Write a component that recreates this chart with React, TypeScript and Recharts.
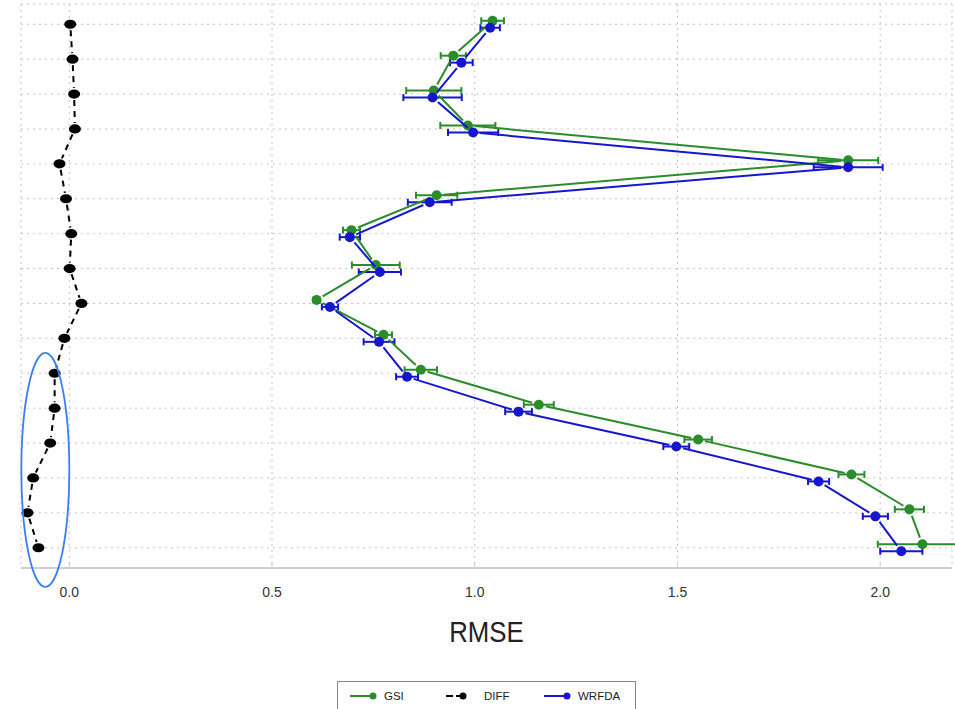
import React from 'react';
import {
  ScatterChart, Scatter, XAxis, YAxis, CartesianGrid, ErrorBar, ReferenceDot, Label,
} from 'recharts';

// Levels from top (16) to bottom (1)
const levels = [16, 15, 14, 13, 12, 11, 10, 9, 8, 7, 6, 5, 4, 3, 2, 1];
const gsiRmse = [1.044, 0.947, 0.899, 0.983, 1.921, 0.906, 0.696, 0.756, 0.61, 0.775, 0.867, 1.158, 1.551, 1.929, 2.072, 2.104];
const gsiErr = [0.028, 0.031, 0.068, 0.068, 0.074, 0.051, 0.021, 0.059, 0.008, 0.021, 0.04, 0.037, 0.034, 0.032, 0.036, 0.11];
const wrfdaRmse = [1.038, 0.967, 0.896, 0.996, 1.921, 0.889, 0.692, 0.766, 0.643, 0.764, 0.833, 1.108, 1.497, 1.848, 1.988, 2.052];
const wrfdaErr = [0.024, 0.028, 0.072, 0.062, 0.085, 0.054, 0.025, 0.052, 0.02, 0.038, 0.027, 0.033, 0.032, 0.026, 0.031, 0.052];
const diffRmse = [0.0025, 0.008, 0.012, 0.014, -0.024, -0.008, 0.005, 0.001, 0.03, -0.012, -0.036, -0.036, -0.047, -0.089, -0.103, -0.076];
const xTicks = [0, 0.5, 1, 1.5, 2];
const seriesNames = ['GSI', 'DIFF', 'WRFDA'];
const highlight = { x: -0.059, y: 3.23 };

const X_DOMAIN: [number, number] = [-0.119, 2.177];
const Y_DOMAIN: [number, number] = [0.42, 16.58];

const GREEN = '#2a8c2a';
const BLUE = '#1616cc';
const BLACK = '#000000';
const ELLIPSE = '#3a7ff2';

const GSI_SHIFT = 0.1;
const WRFDA_SHIFT = -0.1;

const gsiData = levels.map((l, i) => ({ x: gsiRmse[i], y: l + GSI_SHIFT, err: gsiErr[i] }));
const wrfdaData = levels.map((l, i) => ({ x: wrfdaRmse[i], y: l + WRFDA_SHIFT, err: wrfdaErr[i] }));
const diffData = levels.map((l, i) => ({ x: diffRmse[i], y: l }));

const FONT = '"Liberation Sans", Arial, sans-serif';

const dot = (color: string) => (p: any) => <circle cx={p.cx} cy={p.cy} r={5} fill={color} />;
const diffDot = (p: any) => <ellipse cx={p.cx} cy={p.cy} rx={6} ry={4.6} fill={BLACK} />;

// R "type b" style line: segments between points, with a gap round each point
const gappedLine = (color: string, dash?: string, gap = 7) => (props: any) => {
  const pts: { x: number; y: number }[] = (props.points || []).filter(
    (p: any) => p && Number.isFinite(p.x) && Number.isFinite(p.y),
  );
  const segs = [];
  for (let i = 0; i < pts.length - 1; i++) {
    const a = pts[i];
    const b = pts[i + 1];
    const dx = b.x - a.x;
    const dy = b.y - a.y;
    const len = Math.hypot(dx, dy);
    if (len <= 2 * gap + 1) continue;
    const ux = dx / len;
    const uy = dy / len;
    segs.push(
      <line
        key={i}
        x1={a.x + ux * gap} y1={a.y + uy * gap}
        x2={b.x - ux * gap} y2={b.y - uy * gap}
        stroke={color} strokeWidth={2} strokeDasharray={dash}
      />,
    );
  }
  return <g>{segs}</g>;
};

const AxisTitle = (props: any) => {
  const vb = props.viewBox || {};
  const cx = vb.x + vb.width / 2;
  const cy = vb.y + 74;
  return (
    <g transform={`translate(${cx},${cy}) scale(0.86,1)`}>
      <text x={0} y={0} textAnchor="middle" fill="#222" fontSize={30} fontFamily={FONT}>{props.value}</text>
    </g>
  );
};

const LegendBox = () => (
  <div
    style={{
      position: 'absolute', left: 337, top: 681, width: 299, height: 50,
      border: '1px solid #888', background: '#fff', boxSizing: 'border-box',
    }}
  >
    <svg width={299} height={40} style={{ position: 'absolute', left: 0, top: 0 }}>
      <line x1={12} y1={14} x2={34} y2={14} stroke={GREEN} strokeWidth={2} />
      <circle cx={35} cy={14} r={3.5} fill={GREEN} />
      <text x={46} y={18} fill="#222" fontFamily={FONT} fontSize={11.5}>{seriesNames[0]}</text>
      <line x1={108} y1={14} x2={115} y2={14} stroke={BLACK} strokeWidth={2} />
      <line x1={118} y1={14} x2={123} y2={14} stroke={BLACK} strokeWidth={2} />
      <circle cx={125} cy={14} r={3.5} fill={BLACK} />
      <text x={146} y={18} fill="#222" fontFamily={FONT} fontSize={11.5}>{seriesNames[1]}</text>
      <line x1={206} y1={14} x2={228} y2={14} stroke={BLUE} strokeWidth={2} />
      <circle cx={229} cy={14} r={3.5} fill={BLUE} />
      <text x={240} y={18} fill="#222" fontFamily={FONT} fontSize={11.5}>{seriesNames[2]}</text>
    </svg>
  </div>
);

export default function App() {
  return (
    <div style={{ position: 'absolute', left: 0, top: 0, width: 955, height: 709, background: '#fff', overflow: 'hidden' }}>
      <ScatterChart width={955} height={709} margin={{ top: 4, right: 3, bottom: 0, left: 21 }}>
        <CartesianGrid stroke="#c4c4c4" strokeDasharray="2 4" />
        <XAxis
          type="number" dataKey="x" domain={X_DOMAIN} ticks={xTicks} height={141}
          allowDataOverflow
          tickFormatter={(v: number) => v.toFixed(1)}
          axisLine={{ stroke: '#cfcfcf', strokeWidth: 2 }} tickLine={{ stroke: '#cfcfcf' }}
          tickSize={-6} tickMargin={25}
          tick={{ fill: '#333', fontSize: 14, fontFamily: FONT }}
        >
          <Label value="RMSE" content={AxisTitle} />
        </XAxis>
        <XAxis
          xAxisId="top" orientation="top" type="number" domain={X_DOMAIN} height={0}
          tick={false} tickLine={false} axisLine={{ stroke: '#dcdcdc', strokeWidth: 2 }}
        />
        <YAxis
          type="number" dataKey="y" domain={Y_DOMAIN} ticks={levels} width={0}
          allowDataOverflow
          tickFormatter={() => ''}
          axisLine={{ stroke: '#cfcfcf', strokeWidth: 2 }} tickLine={{ stroke: '#cfcfcf' }}
          tickSize={-6}
        />
        <YAxis
          yAxisId="right" orientation="right" type="number" domain={Y_DOMAIN} width={0}
          tick={false} tickLine={false} axisLine={{ stroke: '#dcdcdc', strokeWidth: 2 }}
        />
        <Scatter
          name={seriesNames[1]} data={diffData} isAnimationActive={false}
          line={gappedLine(BLACK, '6 5', 6)}
          shape={diffDot}
        />
        <Scatter
          name={seriesNames[0]} data={gsiData} isAnimationActive={false}
          line={gappedLine(GREEN)}
          shape={dot(GREEN)}
        >
          <ErrorBar dataKey="err" direction="x" width={3.5} stroke={GREEN} strokeWidth={2} isAnimationActive={false} />
        </Scatter>
        <Scatter
          name={seriesNames[2]} data={wrfdaData} isAnimationActive={false}
          line={gappedLine(BLUE)}
          shape={dot(BLUE)}
        >
          <ErrorBar dataKey="err" direction="x" width={3.5} stroke={BLUE} strokeWidth={2} isAnimationActive={false} />
        </Scatter>
        <ReferenceDot
          x={highlight.x} y={highlight.y} ifOverflow="visible" isFront
          shape={(p: any) => (
            <ellipse cx={p.cx} cy={p.cy} rx={24} ry={117} fill="none" stroke={ELLIPSE} strokeWidth={1.8} />
          )}
        />
      </ScatterChart>
      <LegendBox />
    </div>
  );
}
